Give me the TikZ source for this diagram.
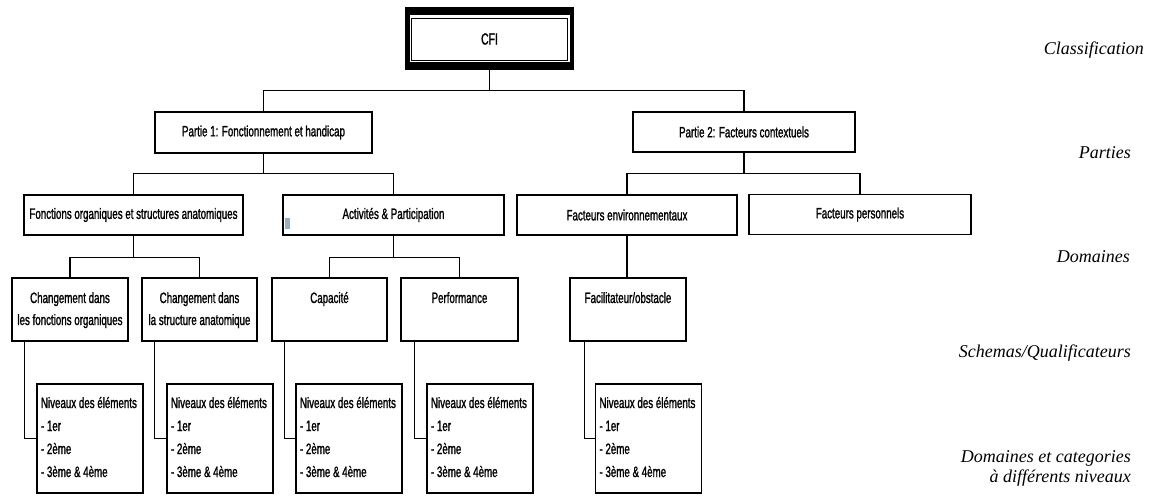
\documentclass[tikz,border=0pt]{standalone}
\usepackage{fontspec}
\newfontfamily\boxfont[FakeStretch=0.65,FakeBold=1.3]{Liberation Sans}
\newfontfamily\lblfont{Liberation Serif}
\definecolor{marker}{RGB}{140,178,210}
\newcommand\tbx[3]{\parbox[c][#1][t]{#2}{\centering\rule{0pt}{25pt}#3}}
\newcommand\nvx{\parbox[c][109pt][t]{106pt}{\raggedright\leftskip=4pt\rule{0pt}{24pt}Niveaux des éléments\\- 1er\\- 2ème\\- 3ème \& 4ème}}
\begin{document}
\begin{tikzpicture}[x=1pt,y=-1pt,
  box/.style={draw, line width=1.2pt, inner sep=0pt, font=\boxfont\fontsize{15}{22}\selectfont},
  sbox/.style={box, minimum height=63pt},
  nbox/.style={box, font=\boxfont\fontsize{15}{23}\selectfont, minimum width=106pt, minimum height=109pt},
  lbl/.style={anchor=east, font=\lblfont\itshape\fontsize{18}{20}\selectfont, align=right, inner sep=0pt},
  link/.style={line width=1.2pt},
]
\useasboundingbox (0,0) rectangle (1156,496);

% CFI
\node[fill=black, minimum width=169pt, minimum height=63pt, inner sep=0pt] (cfiframe) at (489.5,38.5) {};
\node[fill=white, minimum width=160pt, minimum height=47pt, inner sep=0pt] (cfigap) at (489.5,38.5) {};
\node[box, line width=0.8pt, minimum width=156pt, minimum height=42pt, font=\boxfont\fontsize{16}{22}\selectfont] (cfi) at (489.5,39) {CFI};

% Parties
\node[box, minimum width=217pt, minimum height=41pt] (p1) at (263.5,132.5) {Partie 1: Fonctionnement et handicap};
\node[box, minimum width=222pt, minimum height=40pt] (p2) at (744,132) {Partie 2: Facteurs contextuels};

% Domaines
\node[box, minimum width=219pt, minimum height=40pt] (fo) at (133.5,215) {Fonctions organiques et structures anatomiques};
\node[box, minimum width=221pt, minimum height=40pt] (ap) at (393.5,215) {Activités \& Participation};
\node[box, minimum width=220pt, minimum height=40pt] (fe) at (627,215) {Facteurs environnementaux};
\node[box, minimum width=222pt, minimum height=40pt] (fp) at (860,214.5) {Facteurs personnels};
\node[fill=marker, minimum width=5pt, minimum height=11pt, inner sep=0pt] (mark) at (287.5,223.5) {};

% Schemas / qualificateurs
\node[sbox, minimum width=116pt] (cf) at (70,309.5) {\tbx{63pt}{116pt}{Changement dans\\les fonctions organiques}};
\node[sbox, minimum width=115pt] (cs) at (199.5,309.5) {\tbx{63pt}{115pt}{Changement dans\\la structure anatomique}};
\node[sbox, minimum width=115pt] (ca) at (329.5,309.5) {\tbx{63pt}{115pt}{Capacité}};
\node[sbox, minimum width=117pt] (pe) at (459.5,309.5) {\tbx{63pt}{117pt}{Performance}};
\node[sbox, minimum width=116pt] (fa) at (628,309.5) {\tbx{63pt}{116pt}{Facilitateur/obstacle}};

% Niveaux
\node[nbox] (n1) at (90,438.5) {\nvx};
\node[nbox] (n2) at (220,438.5) {\nvx};
\node[nbox] (n3) at (349,438.5) {\nvx};
\node[nbox] (n4) at (480,438.5) {\nvx};
\node[nbox] (n5) at (648.5,438.5) {\nvx};

% Connectors
\draw[link] (cfiframe.south) -- ++(0,20) -| (p1.north);
\draw[link] (cfiframe.south) -- ++(0,20) -| (p2.north);
\draw[link] (p1.south) -- ++(0,20) -| (fo.north);
\draw[link] (p1.south) -- ++(0,20) -| (ap.north);
\draw[link] (p2.south) -- ++(0,21) -| (fe.north);
\draw[link] (p2.south) -- ++(0,21) -| (fp.north);
\draw[link] (fo.south) -- ++(0,22) -| (cf.north);
\draw[link] (fo.south) -- ++(0,22) -| (cs.north);
\draw[link] (ap.south) -- ++(0,22) -| (ca.north);
\draw[link] (ap.south) -- ++(0,22) -| (pe.north);
\draw[link] (fe.south) -- (fe.south |- fa.north);
\draw[link] ([xshift=13pt]cf.south west) |- (n1.west);
\draw[link] ([xshift=13pt]cs.south west) |- (n2.west);
\draw[link] ([xshift=13pt]ca.south west) |- (n3.west);
\draw[link] ([xshift=14pt]pe.south west) |- (n4.west);
\draw[link] ([xshift=15pt]fa.south west) |- (n5.west);

% Level labels
\node[lbl] (lclass) at (1144,50) {Classification};
\node[lbl] (lpart) at (1131,153) {Parties};
\node[lbl] (ldom) at (1130,257) {Domaines};
\node[lbl] (lsch) at (1131,353) {Schemas/Qualificateurs};
\node[lbl] (ldc) at (1131,468) {Domaines et categories\\à différents niveaux};
\end{tikzpicture}
\end{document}
